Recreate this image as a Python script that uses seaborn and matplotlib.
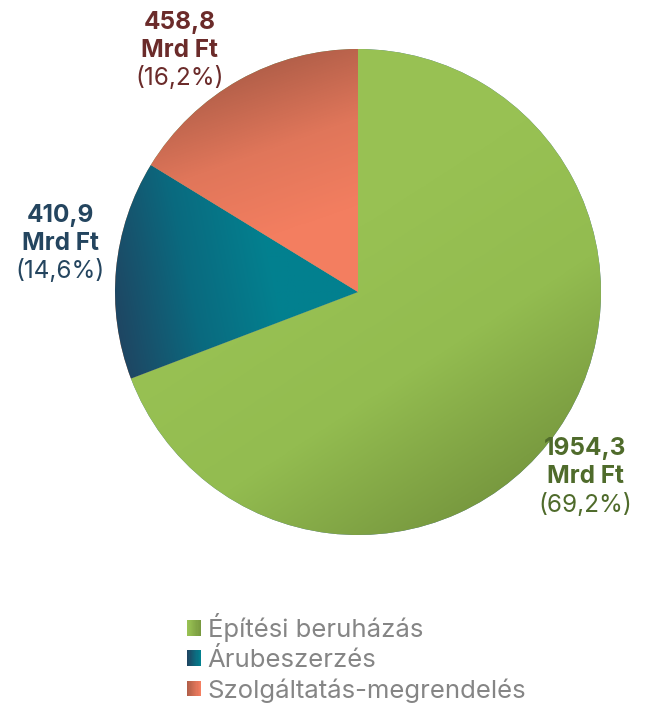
#import libraries
import numpy as np
import matplotlib
matplotlib.use("Agg")
import matplotlib.pyplot as plt
import seaborn as sns
from matplotlib.patches import Patch, Rectangle
from matplotlib.legend_handler import HandlerBase

#data
categories = ["Építési beruházás", "Árubeszerzés", "Szolgáltatás-megrendelés"]
values = [1954.3, 410.9, 458.8]
value_labels = ["1954,3", "410,9", "458,8"]
pct_labels = ["(69,2%)", "(14,6%)", "(16,2%)"]

#style
sns.set_theme(style="white")
plt.rcParams["font.family"] = ["Inter", "DejaVu Sans"]

# gradient stops and direction per slice
gradients = [
    (["#99c254", "#98c153", "#93bc50", "#78993f"], (0.55, -0.85)),
    (["#1f4562", "#0a6a7f", "#03808f", "#02808f"], (1.0, 0.2)),
    (["#b25f49", "#e0765a", "#f37e60", "#f47f61"], (0.35, -1.0)),
]
label_colors = ["#4f6b2b", "#24455f", "#6b2b2a"]
label_pos = [(0.934, -0.76), (-1.226, 0.20), (-0.733, 0.995)]
line_gap = 0.115


class GradientHandler(HandlerBase):
    def __init__(self, stops, **kw):
        super().__init__(**kw)
        self.stops = stops

    def create_artists(self, legend, orig_handle, xdescent, ydescent,
                       width, height, fontsize, trans):
        cols = sns.blend_palette(self.stops, 12)
        n = len(cols)
        arts = []
        for i, c in enumerate(cols):
            r = Rectangle((-xdescent + i * width / n, -ydescent), width / n * 1.05, height,
                          facecolor=c, edgecolor="none", transform=trans)
            arts.append(r)
        return arts


fig = plt.figure(figsize=(6.47, 7.04), dpi=100)
ax = fig.add_axes([115 / 647, 169 / 704, 486 / 647, 486 / 704])

wedges, _ = ax.pie(values, startangle=90, counterclock=False, radius=1,
                   wedgeprops=dict(linewidth=0))

# fill each wedge with a linear gradient clipped to its shape
xx, yy = np.meshgrid(np.linspace(-1, 1, 500), np.linspace(-1, 1, 500))
for w, (stops, d) in zip(wedges, gradients):
    verts = w.get_path().vertices
    t_verts = verts[:, 0] * d[0] + verts[:, 1] * d[1]
    t = (xx * d[0] + yy * d[1] - t_verts.min()) / (t_verts.max() - t_verts.min())
    cmap = sns.blend_palette(stops, as_cmap=True)
    im = ax.imshow(np.clip(t, 0, 1), cmap=cmap, vmin=0, vmax=1,
                   extent=[-1, 1, -1, 1], origin="lower", zorder=w.get_zorder() + 0.1,
                   interpolation="bilinear")
    im.set_clip_path(w)

ax.set_xlim(-1, 1)
ax.set_ylim(-1, 1)
ax.set_aspect("auto")
ax.axis("off")

#labels
for (x, y), val, pct, col in zip(label_pos, value_labels, pct_labels, label_colors):
    ax.text(x, y + line_gap, val, ha="center", va="center", fontsize=17.5,
            fontweight="bold", color=col, clip_on=False)
    ax.text(x, y, "Mrd Ft", ha="center", va="center", fontsize=17.5,
            fontweight="bold", color=col, clip_on=False)
    ax.text(x, y - line_gap, pct, ha="center", va="center", fontsize=17.5,
            fontweight="normal", color=col, clip_on=False)

#legend
handles = [Patch(label=c) for c in categories]
handler_map = {h: GradientHandler([s[0], s[-1]])
               for h, (s, _) in zip(handles, gradients)}
fig.legend(handles, categories, handler_map=handler_map,
           loc="upper left", bbox_to_anchor=(187 / 647, 1 - 613 / 704),
           frameon=False, fontsize=18.5, labelcolor="#858585",
           handlelength=0.55, handleheight=0.55, handletextpad=0.25,
           labelspacing=0.24, borderpad=0, borderaxespad=0)

fig.savefig("out.png", dpi=100)
